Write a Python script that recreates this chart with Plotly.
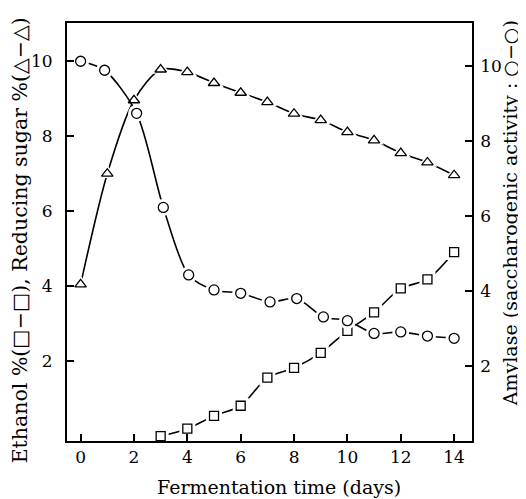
import plotly.graph_objects as go

# ---- data ----
days = list(range(15))
sugar = [4.05, 7.0, 8.96, 9.78, 9.71, 9.42, 9.16, 8.91, 8.6, 8.43, 8.11, 7.89, 7.55, 7.3, 6.96]

amylase_days = [0, 0.9, 2.1, 3.1, 4.05, 5.0, 6.0, 7.1, 8.1, 9.1, 10.0, 11.0, 12.0, 13.0, 14.0]
amylase = [10.13, 9.89, 8.74, 6.23, 4.43, 4.03, 3.94, 3.71, 3.8, 3.31, 3.21, 2.87, 2.91, 2.8, 2.74]

ethanol_days = [3, 4, 5, 6, 7, 8, 9, 10, 11, 12, 13, 14]
ethanol = [0.0, 0.2, 0.54, 0.81, 1.56, 1.82, 2.22, 2.81, 3.3, 3.94, 4.18, 4.91]

x_ticks = [0, 2, 4, 6, 8, 10, 12, 14]
y_ticks = [2, 4, 6, 8, 10]

FONT = "DejaVu Serif"
INK = "black"

series = [
    dict(x=days, y=sugar, sym="triangle-up", size=10, axis="y"),
    dict(x=amylase_days, y=amylase, sym="circle", size=10, axis="y2"),
    dict(x=ethanol_days, y=ethanol, sym="square", size=9, axis="y"),
]

fig = go.Figure()
# lines
for s in series:
    fig.add_trace(go.Scatter(x=s["x"], y=s["y"], yaxis=s["axis"], mode="lines",
                             line=dict(color=INK, width=1.6, shape="spline", smoothing=0.8),
                             hoverinfo="skip", showlegend=False))
# white halos to break lines around the markers
for s in series:
    fig.add_trace(go.Scatter(x=s["x"], y=s["y"], yaxis=s["axis"], mode="markers",
                             marker=dict(symbol=s["sym"], size=s["size"] + 7, color="white",
                                         line=dict(width=0)),
                             hoverinfo="skip", showlegend=False))
# open markers
for s in series:
    fig.add_trace(go.Scatter(x=s["x"], y=s["y"], yaxis=s["axis"], mode="markers",
                             marker=dict(symbol=s["sym"], size=s["size"], color="white",
                                         line=dict(width=1.3, color=INK)),
                             showlegend=False))

axis_common = dict(showline=True, linecolor=INK, linewidth=1.8, ticks="inside",
                   tickcolor=INK, tickwidth=1.6, ticklen=7, showgrid=False, zeroline=False,
                   tickfont=dict(family=FONT, size=17, color=INK))

# the page body adds an 8px offset, so the figure is 8px smaller on each axis
fig.update_layout(
    width=518, height=491,
    margin=dict(l=59, r=54, t=15, b=58),
    paper_bgcolor="white", plot_bgcolor="white",
    xaxis=dict(range=[-0.51, 14.67], tickvals=x_ticks, mirror=True, **axis_common),
    yaxis=dict(range=[-0.13, 11.02], tickvals=y_ticks, ticklabelstandoff=9, **axis_common),
    yaxis2=dict(range=[0, 11.15], tickvals=y_ticks, overlaying="y", side="right",
                ticklabelstandoff=3, **axis_common),
    annotations=[
        dict(text="Fermentation time (days)", xref="paper", yref="paper", x=0.523, y=0,
             yshift=-46, xanchor="center", yanchor="middle", showarrow=False,
             font=dict(family=FONT, size=19, color=INK)),
        dict(text="Ethanol %(□−□), Reducing sugar %(△−△)", xref="paper", yref="paper",
             x=0, xshift=-47, y=0.48, xanchor="center", yanchor="middle", textangle=-90,
             showarrow=False, font=dict(family=FONT, size=20.5, color=INK)),
        dict(text="Amylase (saccharogenic activity : ○−○)", xref="paper", yref="paper",
             x=1, xshift=38, y=0.545, xanchor="center", yanchor="middle", textangle=-90,
             showarrow=False, font=dict(family=FONT, size=19, color=INK)),
    ],
)

fig.write_html("out.html")
